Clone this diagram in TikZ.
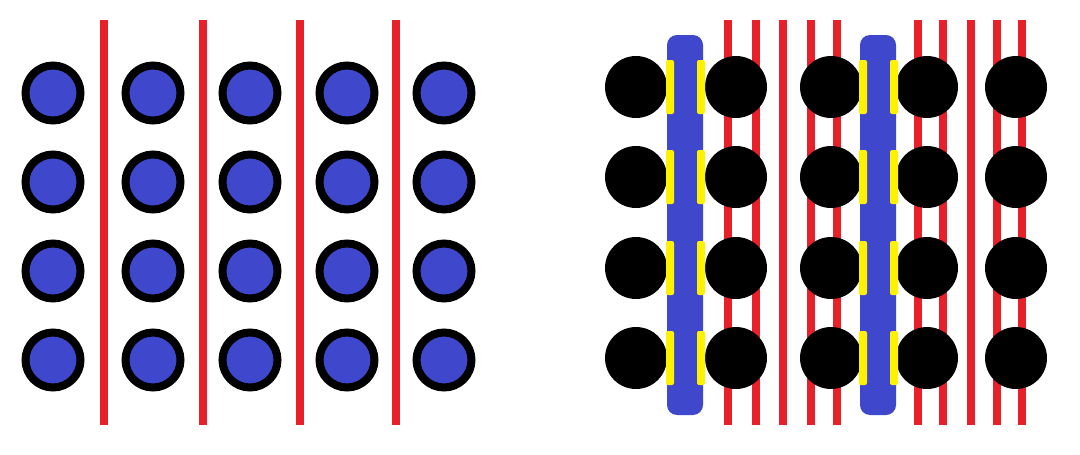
\documentclass[tikz,border=0pt]{standalone}
\definecolor{pred}{HTML}{E8202A}
\definecolor{pblue}{HTML}{3F48CC}
\definecolor{pyellow}{HTML}{FFF200}
\begin{document}
\begin{tikzpicture}[x=1pt,y=-1pt,
  redline/.style={draw=pred,line width=8.5pt},
  ringdot/.style={draw=black,line width=8pt,fill=pblue},
  blackdot/.style={fill=black},
  bluebar/.style={fill=pblue,rounded corners=10pt},
  yellowmark/.style={fill=pyellow,rounded corners=2pt}]
\useasboundingbox (0,0) rectangle (1080,455);
\fill[white] (0,0) rectangle (1080,455);
% left panel
\foreach \x in {104,203,300,396} \draw[redline] (\x,20) -- (\x,425);
\foreach \x in {53,153,250,347,444}
  \foreach \y in {93,182,271,360}
    \draw[ringdot] (\x,\y) circle (27.5);
% right panel
\foreach \x in {728,756,783,811,837,918,943,971,997,1022} \draw[redline] (\x,20) -- (\x,425);
\foreach \x in {636,736,831,927,1016}
  \foreach \y in {87,177,268,358}
    \fill[blackdot] (\x,\y) circle (31);
\foreach \c in {685,878}{
  \fill[bluebar] (\c-18,35) rectangle (\c+18,415);
  \foreach \y in {87,177,268,358}{
    \fill[yellowmark] (\c-19,\y-27) rectangle (\c-11,\y+27);
    \fill[yellowmark] (\c+12,\y-27) rectangle (\c+20,\y+27);
  }
}
\end{tikzpicture}
\end{document}
